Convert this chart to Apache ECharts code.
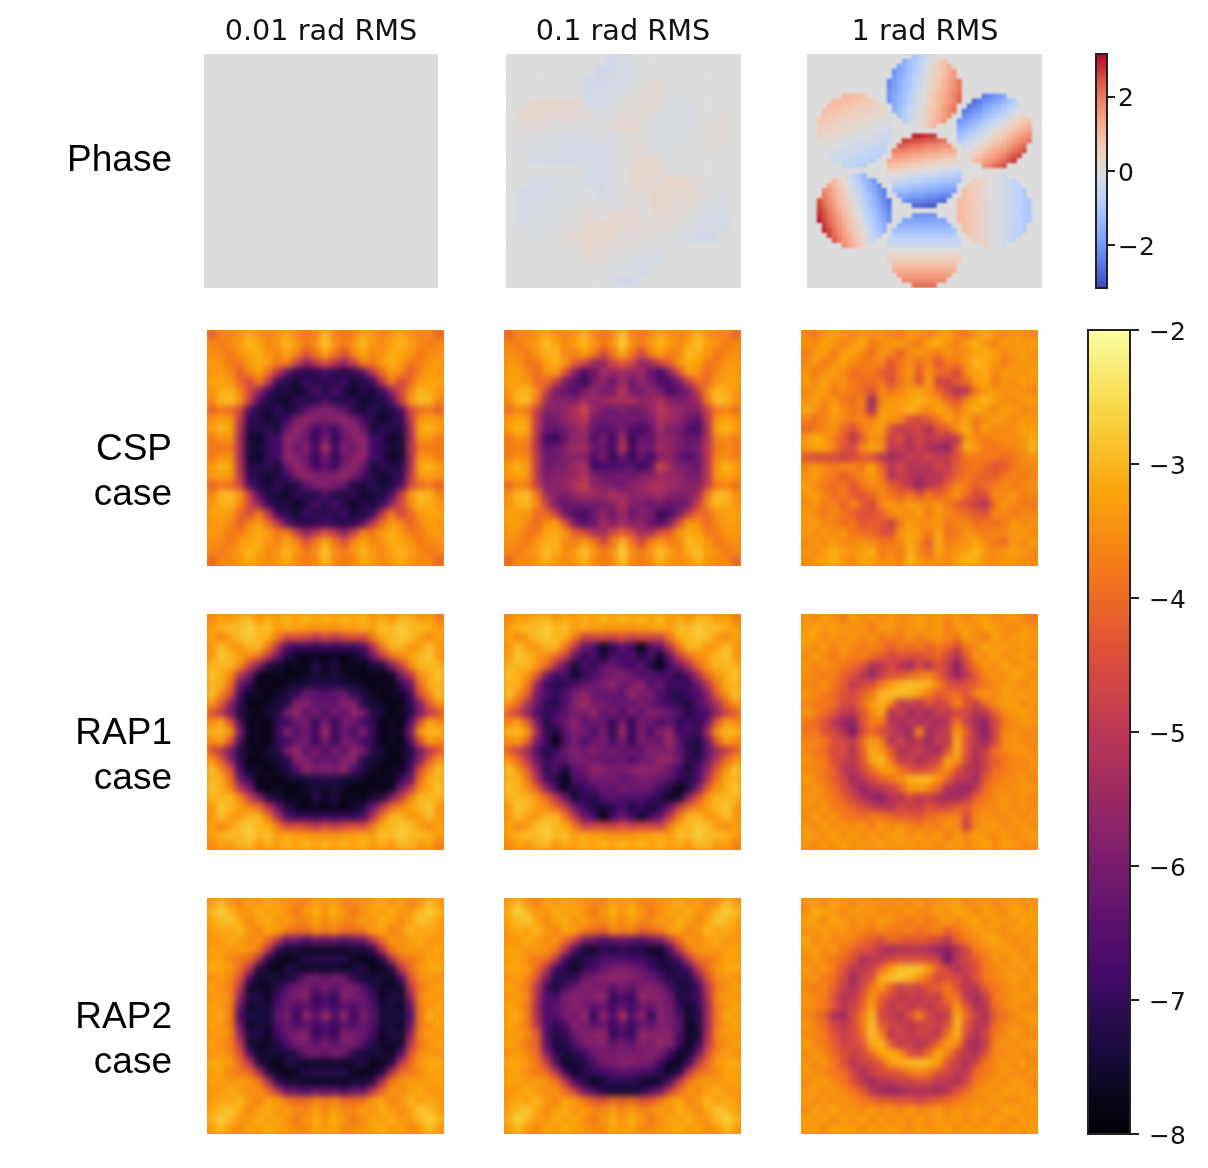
<!DOCTYPE html>
<html>
<head>
<meta charset="utf-8">
<title>Phase and contrast maps</title>
<script src="https://cdn.jsdelivr.net/npm/echarts@6/dist/echarts.min.js"></script>
<style>
body { margin: 0; background: #fff; }
#page { position: relative; width: 1208px; height: 1168px; overflow: hidden; }
#main { position: absolute; left: 0; top: 0; width: 1208px; height: 1168px; z-index: 2; }
.panel { position: absolute; overflow: hidden; }
.panel div.map { position: absolute; left: 0; top: 0; }
</style>
</head>
<body>
<div id="page"><div id="main"></div></div>
<script>
var columnTitles = ['0.01 rad RMS', '0.1 rad RMS', '1 rad RMS'];
var rowLabels = [['Phase'], ['CSP', 'case'], ['RAP1', 'case'], ['RAP2', 'case']];
var phaseTicks = [-2, 0, 2];

// phase maps, in tenths of a radian
var phaseLow = [
[0,0,0,0,0,0,0],
[0,0,0,0,0,0,0],
[0,0,0,0,0,0,0],
[0,0,0,0,0,0,0],
[0,0,0,0,0,0,0],
[0,0,0,0,0,0,0],
[0,0,0,0,0,0,0]
];
var phaseMid = [
[0,0,0,0,0,0,0,0,0,-3,-2,-1,0,0,0,0,0,0,0,0,0],
[0,0,0,0,0,0,0,0,-3,-3,-2,-1,0,0,0,0,0,0,0,0,0],
[0,0,0,0,0,0,0,-3,-3,-2,-2,-1,0,1,0,0,0,0,0,0,0],
[0,0,0,0,0,0,0,-3,-2,-2,-1,0,1,1,0,0,0,0,0,0,0],
[0,0,3,3,3,3,2,-2,-2,-1,0,1,1,2,-1,-1,-1,0,0,0,0],
[0,2,2,2,2,2,1,1,-1,0,1,1,2,-1,-1,-1,-1,0,0,1,0],
[0,1,1,1,0,0,0,0,0,1,2,2,0,-1,-1,-1,-1,0,1,1,0],
[0,0,0,-1,-1,-1,-1,-1,0,-1,0,1,0,-1,-1,-1,0,0,1,1,0],
[0,-1,-1,-1,-1,-2,-2,-2,-2,-1,0,1,1,-1,-1,0,0,0,1,0,0],
[0,0,-2,-2,-2,-2,-2,-2,-2,-1,0,1,2,2,-1,0,0,0,0,0,0],
[0,0,0,0,0,0,0,-2,-2,-1,0,2,2,2,0,0,0,0,0,0,0],
[0,0,-2,-2,-1,-1,-1,-2,-2,-1,0,2,2,1,3,3,2,1,0,0,0],
[0,-2,-2,-2,-1,-1,-1,0,-2,-1,0,1,1,3,3,2,2,1,0,-1,0],
[0,-2,-2,-1,-1,-1,0,0,0,-1,0,1,0,3,2,1,1,0,-1,-1,0],
[0,-2,-1,-1,-1,0,0,1,0,3,2,2,0,2,2,1,0,-1,-2,-2,0],
[0,-1,-1,-1,0,0,1,2,3,3,2,2,1,1,1,0,-1,-2,-2,-3,0],
[0,0,-1,0,0,1,2,3,3,2,1,1,1,0,0,-1,-2,-3,-3,0,0],
[0,0,0,0,0,0,0,3,2,1,1,0,0,-1,0,0,0,0,0,0,0],
[0,0,0,0,0,0,0,1,1,0,0,-1,-1,-2,0,0,0,0,0,0,0],
[0,0,0,0,0,0,0,0,0,-1,-1,-2,-2,0,0,0,0,0,0,0,0],
[0,0,0,0,0,0,0,0,0,-2,-3,-3,0,0,0,0,0,0,0,0,0]
];
var phaseHigh = [
[0,0,0,0,0,0,0,0,0,0,0,0,0,0,0,0,0,0,0,0,0,-11,-8,-5,-2,1,0,0,0,0,0,0,0,0,0,0,0,0,0,0,0,0,0,0,0,0,0],
[0,0,0,0,0,0,0,0,0,0,0,0,0,0,0,0,0,0,0,-16,-13,-10,-7,-4,-1,2,5,8,0,0,0,0,0,0,0,0,0,0,0,0,0,0,0,0,0,0,0],
[0,0,0,0,0,0,0,0,0,0,0,0,0,0,0,0,0,0,-18,-15,-12,-9,-6,-3,0,3,6,8,12,0,0,0,0,0,0,0,0,0,0,0,0,0,0,0,0,0,0],
[0,0,0,0,0,0,0,0,0,0,0,0,0,0,0,0,0,-21,-18,-15,-12,-9,-6,-3,0,3,6,9,12,15,0,0,0,0,0,0,0,0,0,0,0,0,0,0,0,0,0],
[0,0,0,0,0,0,0,0,0,0,0,0,0,0,0,0,0,-20,-17,-14,-11,-8,-5,-2,1,4,7,10,13,16,0,0,0,0,0,0,0,0,0,0,0,0,0,0,0,0,0],
[0,0,0,0,0,0,0,0,0,0,0,0,0,0,0,0,-22,-19,-16,-13,-10,-7,-4,-1,2,5,8,11,14,17,20,0,0,0,0,0,0,0,0,0,0,0,0,0,0,0,0],
[0,0,0,0,0,0,0,0,0,0,0,0,0,0,0,0,-22,-19,-16,-13,-10,-7,-4,-1,2,5,8,11,14,17,20,0,0,0,0,0,0,0,0,0,0,0,0,0,0,0,0],
[0,0,0,0,0,0,0,0,0,0,0,0,0,0,0,0,-21,-18,-15,-12,-9,-6,-3,0,3,6,9,12,15,18,21,0,0,0,0,0,0,0,0,0,0,0,0,0,0,0,0],
[0,0,0,0,0,0,0,10,10,9,9,8,0,0,0,0,-20,-17,-14,-11,-8,-5,-2,1,4,7,10,13,16,19,22,0,0,0,0,-25,-23,-21,-19,-17,0,0,0,0,0,0,0],
[0,0,0,0,0,10,10,9,9,8,8,7,7,6,0,0,-20,-17,-14,-11,-8,-5,-2,1,4,7,10,13,16,19,22,0,0,-27,-25,-22,-20,-18,-16,-14,-11,-9,0,0,0,0,0],
[0,0,0,0,10,9,9,8,8,7,6,6,5,5,4,0,0,-16,-13,-10,-7,-4,-1,2,5,8,11,14,17,20,0,0,-26,-24,-22,-19,-17,-15,-13,-11,-8,-6,-4,0,0,0,0],
[0,0,0,9,8,8,7,7,6,6,5,5,4,4,3,3,0,-15,-12,-9,-6,-3,0,3,6,9,12,15,18,21,0,-25,-23,-21,-19,-16,-14,-12,-10,-8,-5,-3,-1,1,0,0,0],
[0,0,0,8,7,7,6,6,5,5,4,4,3,3,2,1,0,0,-12,-9,-6,-3,0,3,6,9,12,15,18,0,0,-22,-20,-18,-16,-13,-11,-9,-7,-5,-2,0,2,4,0,0,0],
[0,0,7,7,6,6,5,4,4,3,3,2,2,1,1,0,0,0,0,-8,-5,-2,1,4,7,10,13,16,0,0,-21,-19,-17,-15,-13,-10,-8,-6,-4,-2,1,3,5,7,9,0,0],
[0,0,6,5,5,4,4,3,3,2,2,1,1,0,0,-1,-2,0,0,0,0,-1,2,5,8,11,0,0,0,0,-18,-16,-14,-12,-10,-7,-5,-3,-1,1,4,6,8,10,12,0,0],
[0,0,5,4,4,3,3,2,2,1,0,0,-1,-1,-2,-2,-3,0,0,0,0,0,0,0,0,0,0,0,0,0,-15,-13,-11,-9,-7,-4,-2,0,2,4,7,9,11,13,15,0,0],
[0,0,4,3,2,2,1,1,0,0,-1,-1,-2,-2,-3,-3,-4,0,0,0,0,29,29,28,27,27,0,0,0,0,-12,-10,-8,-6,-4,-1,1,3,5,7,10,12,14,16,18,0,0],
[0,0,2,2,1,1,0,0,-1,-1,-2,-2,-3,-3,-4,-5,-5,0,0,27,26,25,25,24,23,23,22,21,0,0,-9,-7,-5,-3,-1,2,4,6,8,10,13,15,17,19,21,0,0],
[0,0,0,1,0,0,-1,-2,-2,-3,-3,-4,-4,-5,-5,-6,0,0,23,23,22,21,21,20,19,19,18,17,17,0,0,-4,-2,0,2,4,7,9,11,13,16,18,20,22,0,0,0],
[0,0,0,-1,-1,-2,-2,-3,-3,-4,-4,-5,-5,-6,-6,-7,0,20,19,19,18,17,17,16,15,15,14,13,13,12,0,-1,1,3,5,8,10,12,14,16,19,21,23,25,0,0,0],
[0,0,0,0,-2,-3,-3,-4,-4,-5,-6,-6,-7,-7,-8,0,0,16,15,15,14,13,13,12,11,11,10,9,9,8,0,0,4,6,8,11,13,15,17,19,22,24,26,0,0,0,0],
[0,0,0,0,0,-4,-4,-5,-6,-6,-7,-7,-8,-8,0,0,13,12,12,11,10,9,9,8,7,7,6,5,5,4,3,0,0,9,11,14,16,18,20,22,25,27,0,0,0,0,0],
[0,0,0,0,0,0,0,-6,-6,-7,-8,-8,0,0,0,0,9,8,8,7,6,5,5,4,3,3,2,1,1,0,-1,0,0,0,0,17,19,21,23,25,0,0,0,0,0,0,0],
[0,0,0,0,0,0,0,0,0,0,0,0,0,0,0,0,5,4,3,3,2,1,1,0,-1,-1,-2,-3,-3,-4,-5,0,0,0,0,0,0,0,0,0,0,0,0,0,0,0,0],
[0,0,0,0,0,0,0,1,-3,-6,-10,-14,0,0,0,0,1,0,-1,-1,-2,-3,-3,-4,-5,-5,-6,-7,-7,-8,-9,0,0,0,0,3,1,0,-1,-3,0,0,0,0,0,0,0],
[0,0,0,0,0,9,6,2,-2,-5,-9,-12,-16,-20,0,0,-3,-4,-4,-5,-6,-7,-7,-8,-9,-9,-10,-11,-11,-12,-13,0,0,6,4,3,1,0,-1,-3,-4,-6,0,0,0,0,0],
[0,0,0,0,14,10,7,3,0,-4,-8,-11,-15,-18,-22,0,0,-8,-9,-9,-10,-11,-11,-12,-13,-13,-14,-15,-15,-16,0,0,7,6,4,3,1,0,-1,-3,-4,-6,-7,0,0,0,0],
[0,0,0,19,16,12,8,5,1,-3,-6,-10,-14,-17,-21,-24,0,-12,-13,-13,-14,-15,-15,-16,-17,-17,-18,-19,-19,-20,0,9,7,6,4,3,1,0,-1,-3,-4,-6,-7,-9,0,0,0],
[0,0,0,20,17,13,9,6,2,-2,-5,-9,-12,-16,-20,-23,0,0,-17,-17,-18,-19,-19,-20,-21,-21,-22,-23,-23,0,0,9,7,6,4,3,1,0,-1,-3,-4,-6,-7,-9,0,0,0],
[0,0,25,21,18,14,10,7,3,0,-4,-8,-11,-15,-18,-22,-26,0,0,-21,-22,-23,-23,-24,-25,-25,-26,-27,0,0,10,9,7,6,4,3,1,0,-1,-3,-4,-6,-7,-9,-10,0,0],
[0,0,26,22,19,15,11,8,4,1,-3,-6,-10,-14,-17,-21,-24,0,0,0,0,-27,-27,-28,-29,-29,0,0,0,0,10,9,7,6,4,3,1,0,-1,-3,-4,-6,-7,-9,-10,0,0],
[0,0,27,24,20,16,13,9,6,2,-2,-5,-9,-12,-16,-20,-23,0,0,0,0,0,0,0,0,0,0,0,0,0,10,9,7,6,4,3,1,0,-1,-3,-4,-6,-7,-9,-10,0,0],
[0,0,28,25,21,18,14,10,7,3,0,-4,-8,-11,-15,-18,-22,0,0,0,0,-21,-21,-21,-21,-21,0,0,0,0,10,9,7,6,4,3,1,0,-1,-3,-4,-6,-7,-9,-10,0,0],
[0,0,30,26,22,19,15,11,8,4,1,-3,-7,-10,-14,-17,-21,0,0,-18,-18,-18,-18,-18,-18,-18,-18,-18,0,0,10,9,7,6,4,3,1,0,-1,-3,-4,-6,-7,-9,-10,0,0],
[0,0,0,27,23,20,16,13,9,6,2,-2,-5,-9,-12,-16,0,0,-15,-15,-15,-15,-15,-15,-15,-15,-15,-15,-15,0,0,9,7,6,4,3,1,0,-1,-3,-4,-6,-7,-9,0,0,0],
[0,0,0,28,25,21,17,14,10,7,3,0,-4,-8,-11,-15,0,-12,-12,-12,-12,-12,-12,-12,-12,-12,-12,-12,-12,-12,0,9,7,6,4,3,1,0,-1,-3,-4,-6,-7,-9,0,0,0],
[0,0,0,0,26,22,19,15,12,8,4,1,-3,-6,-10,0,0,-9,-9,-9,-9,-9,-9,-9,-9,-9,-9,-9,-9,-9,0,0,7,6,4,3,1,0,-1,-3,-4,-6,-7,0,0,0,0],
[0,0,0,0,0,24,20,16,13,9,6,2,-2,-5,0,0,-6,-6,-6,-6,-6,-6,-6,-6,-6,-6,-6,-6,-6,-6,-6,0,0,6,4,3,1,0,-1,-3,-4,-6,0,0,0,0,0],
[0,0,0,0,0,0,0,18,14,10,7,3,0,0,0,0,-3,-3,-3,-3,-3,-3,-3,-3,-3,-3,-3,-3,-3,-3,-3,0,0,0,0,3,1,0,-1,-3,0,0,0,0,0,0,0],
[0,0,0,0,0,0,0,0,0,0,0,0,0,0,0,0,0,0,0,0,0,0,0,0,0,0,0,0,0,0,0,0,0,0,0,0,0,0,0,0,0,0,0,0,0,0,0],
[0,0,0,0,0,0,0,0,0,0,0,0,0,0,0,0,3,3,3,3,3,3,3,3,3,3,3,3,3,3,3,0,0,0,0,0,0,0,0,0,0,0,0,0,0,0,0],
[0,0,0,0,0,0,0,0,0,0,0,0,0,0,0,0,6,6,6,6,6,6,6,6,6,6,6,6,6,6,6,0,0,0,0,0,0,0,0,0,0,0,0,0,0,0,0],
[0,0,0,0,0,0,0,0,0,0,0,0,0,0,0,0,0,9,9,9,9,9,9,9,9,9,9,9,9,9,0,0,0,0,0,0,0,0,0,0,0,0,0,0,0,0,0],
[0,0,0,0,0,0,0,0,0,0,0,0,0,0,0,0,0,12,12,12,12,12,12,12,12,12,12,12,12,12,0,0,0,0,0,0,0,0,0,0,0,0,0,0,0,0,0],
[0,0,0,0,0,0,0,0,0,0,0,0,0,0,0,0,0,0,15,15,15,15,15,15,15,15,15,15,15,0,0,0,0,0,0,0,0,0,0,0,0,0,0,0,0,0,0],
[0,0,0,0,0,0,0,0,0,0,0,0,0,0,0,0,0,0,0,18,18,18,18,18,18,18,18,18,0,0,0,0,0,0,0,0,0,0,0,0,0,0,0,0,0,0,0],
[0,0,0,0,0,0,0,0,0,0,0,0,0,0,0,0,0,0,0,0,0,21,21,21,21,21,0,0,0,0,0,0,0,0,0,0,0,0,0,0,0,0,0,0,0,0,0]
];

// contrast maps, in tenths of a decade below 1 (38 means -3.8)
var cspLow = [
[42,36,36,34,31,34,36,34,31,36,38,36,29,36,38,36,31,34,36,34,31,34,36,36,42],
[36,38,36,33,30,32,36,34,30,34,38,35,28,35,38,34,30,34,36,32,30,33,36,38,36],
[35,36,38,34,32,31,35,36,32,36,44,38,32,38,44,36,32,36,35,31,32,34,38,36,35],
[33,34,38,38,33,31,33,38,37,48,56,50,44,50,56,48,37,38,33,31,33,38,38,34,33],
[34,33,36,42,36,33,40,50,64,70,72,70,68,70,72,70,64,50,40,33,36,42,36,33,34],
[32,32,34,40,46,38,50,68,72,74,68,72,70,72,68,74,72,68,50,38,46,40,34,32,32],
[34,31,30,36,46,56,68,74,72,76,72,66,72,66,72,76,72,74,68,56,46,36,30,31,34],
[36,30,29,34,48,66,72,74,76,70,72,72,66,72,72,70,76,74,72,66,48,34,29,30,36],
[42,38,40,46,66,72,74,70,74,72,64,60,58,60,64,72,74,70,74,72,66,46,40,38,42],
[34,33,34,50,70,72,76,72,68,60,56,58,60,58,56,60,68,72,76,72,70,50,34,33,34],
[33,30,32,52,72,72,70,74,62,56,60,68,64,68,60,56,62,74,70,72,72,52,32,30,33],
[38,35,34,54,74,76,70,68,56,58,62,70,60,70,62,58,56,68,70,76,74,54,34,35,38],
[38,38,38,52,74,74,70,68,56,62,58,68,52,68,58,62,56,68,70,74,74,52,38,38,38],
[38,35,34,54,74,76,70,68,56,58,62,70,60,70,62,58,56,68,70,76,74,54,34,35,38],
[33,30,32,52,72,72,70,74,62,56,60,68,64,68,60,56,62,74,70,72,72,52,32,30,33],
[34,33,34,50,70,72,76,72,68,60,56,58,60,58,56,60,68,72,76,72,70,50,34,33,34],
[42,38,40,46,66,72,74,70,74,72,64,60,58,60,64,72,74,70,74,72,66,46,40,38,42],
[36,30,29,34,48,66,72,74,76,70,72,72,66,72,72,70,76,74,72,66,48,34,29,30,36],
[34,31,30,36,46,56,68,74,72,76,72,66,72,66,72,76,72,74,68,56,46,36,30,31,34],
[32,32,34,40,46,38,50,68,72,74,68,72,70,72,68,74,72,68,50,38,46,40,34,32,32],
[34,33,36,42,36,33,40,50,64,70,72,70,68,70,72,70,64,50,40,33,36,42,36,33,34],
[33,34,38,38,33,31,33,38,37,48,56,50,44,50,56,48,37,38,33,31,33,38,38,34,33],
[35,36,38,34,32,31,35,36,32,36,44,38,31,38,44,36,32,36,35,31,32,34,38,36,35],
[36,38,36,33,30,32,36,34,30,34,38,35,28,35,38,34,30,34,36,32,30,33,36,38,36],
[42,36,36,34,31,34,36,34,31,36,38,36,29,36,38,36,31,34,36,34,31,34,36,36,42]
];
var cspMid = [
[42,36,36,34,31,34,36,34,30,36,38,36,28,36,38,36,31,34,36,34,30,34,36,36,42],
[36,38,35,33,29,32,36,33,30,34,38,35,27,35,38,34,30,33,36,32,29,33,35,38,36],
[35,36,38,34,31,30,36,37,33,37,46,38,31,38,46,37,33,37,36,30,31,34,38,36,35],
[34,34,38,38,32,31,34,42,46,54,56,46,42,46,56,54,46,42,34,31,32,38,38,34,34],
[33,33,36,40,35,33,44,58,66,62,54,56,54,56,54,62,68,58,44,33,35,40,36,33,33],
[32,33,34,40,40,48,60,64,70,60,56,62,54,62,56,60,66,66,60,48,40,40,34,33,32],
[34,31,30,36,48,60,62,66,60,56,60,60,50,60,60,56,60,68,64,60,48,36,30,31,34],
[35,30,29,38,54,58,58,58,54,56,56,52,54,52,56,56,52,58,60,58,54,38,29,30,35],
[40,36,38,48,58,58,56,52,46,56,60,62,58,62,60,56,50,54,56,58,58,48,38,36,40],
[34,32,34,50,62,60,56,54,50,60,62,60,62,60,62,60,52,54,56,62,64,50,34,32,34],
[33,30,32,50,62,64,60,56,54,62,66,64,60,66,68,62,54,60,60,66,68,52,32,30,33],
[38,35,36,52,68,70,62,56,56,66,60,68,54,70,62,64,56,56,60,64,62,52,36,35,38],
[38,36,38,52,64,62,58,54,54,62,62,68,50,68,60,62,54,56,60,62,60,50,38,36,38],
[38,35,36,50,62,62,58,58,58,66,60,70,62,70,62,68,58,56,62,66,62,50,36,35,38],
[33,30,34,50,62,60,60,54,52,68,68,66,66,64,70,64,46,54,60,60,62,50,34,30,33],
[34,32,34,50,60,58,56,56,52,58,62,62,60,62,58,58,54,56,56,60,60,50,34,32,34],
[40,36,38,48,58,58,56,52,48,56,58,60,62,58,56,52,52,54,56,58,58,48,38,36,40],
[35,30,29,38,54,58,60,56,54,54,56,52,54,58,56,56,54,58,60,58,54,38,29,30,35],
[34,31,30,36,48,60,62,62,60,62,60,58,52,58,60,62,60,64,62,60,48,36,30,31,34],
[32,33,34,40,40,48,62,66,68,62,56,62,54,62,58,60,70,66,60,48,40,40,34,33,32],
[33,33,36,40,35,33,44,60,66,62,54,58,54,58,56,62,66,58,44,33,35,40,36,33,33],
[34,34,38,38,32,31,34,42,44,52,54,46,42,46,54,52,44,42,34,31,32,38,38,34,34],
[35,36,38,34,31,30,36,37,33,37,46,38,30,38,46,37,33,37,36,30,31,34,38,36,35],
[36,38,35,33,29,31,36,33,29,34,38,35,27,35,38,34,29,33,36,31,29,33,35,38,36],
[42,36,36,34,30,34,36,34,30,36,38,36,28,36,38,36,30,34,36,34,30,34,36,36,42]
];
var cspHigh = [
[36,38,34,32,34,36,33,35,34,36,38,33,35,37,33,32,36,38,34,31,34,36,33,35,36],
[34,36,32,34,37,34,32,38,36,34,33,36,38,32,31,35,37,33,31,34,37,33,34,34,33],
[38,34,33,38,33,32,36,40,34,36,42,35,34,36,38,34,36,35,32,31,33,36,34,33,35],
[36,33,38,35,32,36,38,37,36,44,38,36,40,36,44,38,38,34,30,32,34,38,35,34,34],
[34,38,35,33,36,40,38,38,42,44,38,34,42,34,40,40,46,36,32,31,36,34,33,35,33],
[33,36,32,36,34,38,40,40,38,46,38,35,44,33,46,48,42,40,33,32,38,34,36,33,34],
[36,34,33,38,36,38,40,44,36,38,36,33,32,35,40,46,52,50,38,34,33,36,34,35,36],
[35,33,36,34,38,40,36,56,36,34,33,32,30,33,34,40,44,36,32,30,33,35,36,34,33],
[31,34,38,32,36,38,38,54,34,33,34,30,33,36,32,34,38,33,31,34,36,33,34,36,35],
[36,40,36,34,36,38,36,38,33,34,36,44,46,42,38,33,36,33,38,35,33,34,36,34,34],
[42,38,36,34,40,46,38,34,33,44,50,48,46,52,44,42,34,31,38,33,36,36,35,33,33],
[33,31,33,38,42,50,42,35,36,48,44,52,46,50,48,50,50,33,36,38,36,35,36,34,31],
[34,32,32,36,44,46,36,32,34,50,48,52,48,52,54,56,44,31,33,38,38,37,36,35,30],
[44,46,46,46,48,46,42,44,50,54,52,48,50,46,50,48,44,38,38,38,38,40,38,36,34],
[36,34,36,38,36,36,38,32,40,50,46,52,50,52,46,50,42,40,38,40,44,42,38,36,36],
[35,33,36,38,42,40,36,33,38,52,48,50,54,50,52,46,42,38,40,42,42,38,37,38,36],
[32,36,38,40,38,44,38,36,36,42,46,50,56,50,48,42,36,38,42,40,38,36,38,36,35],
[34,33,36,40,38,42,44,40,36,38,42,38,44,38,42,38,34,40,46,44,36,36,34,38,36],
[36,34,38,36,42,36,42,46,36,34,36,33,34,36,34,38,42,44,48,52,38,34,36,38,38],
[33,36,38,36,38,42,44,44,42,36,34,36,33,38,33,36,38,40,42,44,36,36,38,36,36],
[34,33,36,36,40,38,44,42,42,48,38,33,36,35,34,38,36,36,40,38,40,38,34,36,34],
[33,36,34,36,34,38,40,40,44,46,34,32,34,38,32,40,38,34,36,38,36,36,34,33,36],
[36,34,36,33,36,36,34,36,38,38,36,31,36,42,31,38,36,34,32,36,38,40,34,36,33],
[34,36,33,31,33,35,33,31,38,36,38,31,36,40,32,36,34,32,30,34,36,34,33,34,36],
[36,34,33,30,34,36,32,33,36,34,38,30,34,36,34,36,33,30,31,35,36,34,34,36,36]
];
var rap1Low = [
[36,32,34,30,30,34,31,33,30,32,30,32,30,32,30,32,30,33,31,34,30,30,34,32,38],
[33,31,29,30,27,30,29,33,31,33,33,34,34,34,33,33,31,33,29,30,27,30,29,31,33],
[32,36,33,29,28,30,31,38,46,44,46,50,46,50,46,44,46,38,31,30,28,29,33,36,32],
[34,29,33,34,30,30,38,52,66,70,68,70,68,70,68,70,66,52,38,30,30,34,33,29,34],
[34,28,30,33,36,40,50,62,72,76,78,76,78,76,78,76,72,62,50,40,36,33,30,28,34],
[30,30,30,36,48,58,72,74,78,76,78,72,76,72,78,76,78,74,72,58,48,36,30,30,30],
[28,31,36,50,60,76,78,76,78,78,76,74,76,74,76,78,78,76,78,76,60,50,36,31,28],
[30,31,40,62,70,78,76,78,76,74,74,72,72,72,74,74,76,78,76,78,70,62,40,31,30],
[28,36,44,68,76,76,78,76,72,70,62,64,66,64,62,70,72,76,78,76,76,68,44,36,28],
[34,42,58,70,78,78,76,74,72,58,58,64,62,64,58,58,72,74,76,78,78,70,58,42,34],
[44,50,60,72,76,78,74,72,60,56,64,60,66,60,64,56,60,72,74,78,76,72,60,50,44],
[36,32,44,66,78,76,78,70,68,62,60,70,60,70,60,62,68,70,78,76,78,66,44,32,36],
[30,30,34,60,76,76,78,70,58,66,62,68,54,68,62,66,58,70,78,76,76,60,34,30,30],
[36,33,44,66,78,76,78,70,68,62,60,70,60,70,60,62,68,70,78,76,78,66,44,33,36],
[44,50,60,72,76,78,74,72,60,56,64,60,66,60,64,56,60,72,74,78,76,72,60,50,44],
[34,42,58,70,78,78,76,74,72,58,58,64,62,64,58,58,72,74,76,78,78,70,58,42,34],
[28,36,44,68,76,76,78,76,72,66,56,60,58,60,56,66,72,76,78,76,76,68,44,36,28],
[30,31,40,62,70,78,76,78,76,74,74,72,72,72,74,74,76,78,76,78,70,62,40,31,30],
[28,31,36,50,60,76,78,76,78,78,76,74,76,74,76,78,78,76,78,76,60,50,36,31,28],
[30,30,30,36,48,58,72,74,78,76,78,72,76,72,78,76,78,74,72,58,48,36,30,30,30],
[34,28,30,33,36,40,50,62,72,76,78,76,78,76,78,76,72,62,50,40,36,33,30,28,34],
[34,29,33,34,30,30,38,52,66,70,68,70,68,70,68,70,66,52,38,30,30,34,33,29,34],
[32,36,33,29,28,30,31,38,46,44,46,50,46,50,46,44,46,38,31,30,28,29,33,36,32],
[33,31,29,30,27,30,29,33,31,33,33,34,34,34,33,33,31,33,29,30,27,30,29,31,33],
[36,32,34,30,30,34,31,33,30,32,30,32,30,32,30,32,30,33,31,34,30,30,34,32,38]
];
var rap1Mid = [
[36,32,34,30,30,34,31,33,30,32,30,32,30,32,30,32,30,33,31,34,30,30,34,32,38],
[33,31,29,30,27,30,29,33,31,33,33,34,34,34,33,33,31,33,29,30,27,30,29,31,33],
[32,36,33,29,28,30,31,38,48,46,46,48,44,48,46,46,48,38,31,30,28,29,33,36,32],
[34,29,33,34,30,30,38,50,62,66,76,70,64,68,78,66,62,50,38,30,30,34,33,29,34],
[34,28,30,33,36,40,48,62,70,66,74,66,68,66,72,66,76,62,48,40,36,33,30,28,34],
[30,30,30,34,40,52,64,74,66,70,64,62,66,68,64,72,78,68,60,52,40,34,30,30,30],
[28,31,34,42,60,68,66,76,70,66,62,60,58,62,66,64,68,66,72,64,52,40,34,31,28],
[30,31,38,56,68,72,70,66,64,62,60,56,62,60,56,66,62,70,68,70,62,50,38,31,30],
[28,34,42,60,66,70,66,60,56,62,64,62,64,56,60,60,66,70,72,68,66,58,42,34,28],
[34,40,52,62,70,72,66,58,54,60,60,64,62,62,60,62,66,68,70,74,66,60,52,40,34],
[42,48,56,66,70,68,64,60,60,56,64,60,66,60,64,58,60,62,66,72,68,66,56,48,42],
[36,33,42,60,72,66,62,56,64,62,62,70,60,70,60,62,66,64,70,68,70,62,42,33,36],
[30,30,34,54,70,74,64,58,60,66,60,70,54,70,60,66,58,56,68,66,70,54,34,30,30],
[36,33,42,60,68,78,66,60,66,62,60,68,60,70,60,62,62,54,64,72,72,62,42,33,36],
[42,48,54,66,72,70,62,58,62,58,62,60,64,62,64,58,60,58,64,70,74,64,54,48,42],
[34,40,50,62,70,66,64,60,60,62,62,64,62,66,62,60,56,56,62,72,70,62,50,40,34],
[28,34,42,56,70,66,74,64,62,56,58,60,60,58,56,58,58,62,68,74,66,56,42,34,28],
[30,31,38,52,66,72,78,66,66,60,62,60,64,62,60,60,62,64,70,72,66,52,38,31,30],
[28,31,34,42,56,68,76,72,68,66,62,64,60,62,62,62,68,72,78,72,60,42,34,31,28],
[30,30,30,34,40,50,62,74,70,72,66,64,66,66,66,68,72,76,74,56,44,34,30,30,30],
[34,28,30,33,36,40,48,60,68,72,74,70,66,72,68,74,70,62,48,40,36,33,30,28,34],
[34,29,33,34,30,30,38,50,62,68,78,68,62,68,76,68,62,50,38,30,30,34,33,29,34],
[32,36,33,29,28,30,31,38,48,46,46,48,44,48,46,46,48,38,31,30,28,29,33,36,32],
[33,31,29,30,27,30,29,33,31,33,33,34,34,34,33,33,31,33,29,30,27,30,29,31,33],
[36,32,34,30,30,34,31,33,30,32,30,32,30,32,30,32,30,33,31,34,30,30,34,32,38]
];
var rap1High = [
[34,36,33,35,38,32,36,34,36,33,36,35,33,35,33,36,33,36,34,32,36,34,33,36,38],
[34,32,35,33,34,36,34,38,33,34,36,35,33,35,33,38,34,33,36,32,33,35,36,34,35],
[32,33,36,34,36,33,36,34,38,36,38,34,38,35,34,36,38,33,35,38,33,36,34,33,34],
[33,36,33,37,34,36,38,36,38,42,38,40,37,42,38,40,46,38,36,32,34,33,35,34,34],
[36,33,36,38,35,38,37,40,42,46,44,44,46,42,40,46,52,42,34,36,32,36,34,33,36],
[34,37,34,36,38,40,44,52,50,46,50,56,46,52,44,48,58,46,38,34,36,32,35,34,33],
[35,36,38,37,42,44,50,56,48,44,44,40,38,36,42,48,56,50,42,36,34,36,32,33,36],
[36,37,34,38,42,50,46,44,38,33,30,29,29,31,36,44,46,44,42,38,36,33,34,36,33],
[34,36,38,40,44,46,42,38,30,29,29,30,33,38,42,40,40,44,36,34,36,33,34,33,35],
[36,38,38,40,46,46,40,34,30,36,50,48,50,44,48,44,36,44,48,40,35,33,33,36,34],
[34,36,40,44,50,50,44,36,32,52,48,54,50,54,48,50,46,46,52,50,42,36,34,33,35],
[38,40,44,50,56,58,44,38,38,50,54,50,52,50,54,50,38,48,54,56,46,38,36,34,34],
[40,38,44,46,52,60,46,40,46,48,52,56,36,54,50,48,33,42,52,58,46,36,35,36,36],
[36,36,38,44,46,50,40,33,36,52,46,52,50,54,48,50,31,44,50,56,46,36,34,36,36],
[36,38,40,46,44,52,42,31,34,42,52,50,48,52,54,44,31,44,52,48,40,36,35,34,36],
[34,36,38,44,48,50,44,32,30,38,50,48,52,50,46,33,34,46,54,46,42,38,36,36,34],
[36,36,38,42,50,52,46,40,33,33,38,44,46,44,40,34,44,50,52,48,40,38,36,36,35],
[33,36,38,42,46,54,50,46,42,38,36,31,30,30,34,42,50,50,54,42,38,36,36,34,36],
[36,34,36,40,44,50,56,52,50,48,42,34,33,36,42,52,54,56,50,40,36,36,35,34,34],
[34,35,36,38,42,46,52,56,58,50,52,46,50,48,52,54,54,50,42,38,36,34,36,34,36],
[35,36,34,38,38,42,44,48,50,52,46,48,48,44,46,46,42,42,38,36,36,34,36,35,36],
[36,33,36,34,38,38,40,38,38,40,42,42,44,40,38,36,36,46,36,34,36,36,34,36,34],
[34,36,33,36,34,36,34,38,33,36,34,36,38,36,38,34,36,48,36,34,33,36,35,34,36],
[33,34,36,32,36,33,36,33,36,34,33,36,33,36,33,38,34,36,33,35,36,33,36,34,33],
[34,36,33,36,32,35,33,35,33,35,34,33,35,34,36,34,33,36,34,32,36,33,34,36,35]
];
var rap2Low = [
[33,29,34,36,32,34,31,33,34,36,36,32,34,32,36,36,34,33,31,34,32,36,34,29,33],
[30,27,30,34,34,31,33,32,35,38,34,31,34,31,34,38,35,32,33,31,34,34,30,27,30],
[32,30,28,32,36,33,31,35,33,36,36,33,36,33,36,36,33,35,31,33,36,32,28,30,32],
[33,31,33,30,34,37,32,33,38,40,40,36,38,36,40,40,38,33,32,37,34,30,33,31,33],
[34,34,31,33,36,34,40,50,62,62,66,62,64,62,66,62,62,50,40,34,36,33,31,34,34],
[32,33,34,33,34,38,52,70,74,74,76,76,76,76,76,74,74,70,52,38,34,33,34,33,32],
[33,32,36,38,40,52,72,76,78,76,72,72,72,72,72,76,78,76,72,52,40,38,36,32,33],
[31,32,34,40,50,72,76,78,72,74,76,74,76,74,76,74,72,78,76,72,50,40,34,32,31],
[35,33,36,44,66,76,74,74,74,70,62,60,64,60,62,70,74,74,74,76,66,44,36,33,35],
[32,35,38,50,74,76,76,72,66,60,60,64,60,64,60,60,66,72,76,76,74,50,38,35,32],
[34,33,36,56,74,72,76,68,62,60,58,70,66,70,58,60,62,68,76,72,74,56,36,33,34],
[32,34,38,62,76,74,74,66,62,66,64,68,66,68,64,66,62,66,74,74,76,62,38,34,32],
[33,31,38,66,74,74,74,64,60,70,56,66,54,66,56,70,60,64,74,74,74,66,38,31,33],
[32,34,38,62,76,74,74,66,62,66,64,68,66,68,64,66,62,66,74,74,76,62,38,34,32],
[34,33,36,56,74,72,76,68,62,60,58,70,66,70,58,60,62,68,76,72,74,56,36,33,34],
[32,35,38,50,74,76,76,72,66,60,60,64,60,64,60,60,66,72,76,76,74,50,38,35,32],
[35,33,36,44,66,76,74,74,74,70,62,60,64,60,62,70,74,74,74,76,66,44,36,33,35],
[31,32,34,40,50,72,76,78,72,74,76,74,76,74,76,74,72,78,76,72,50,40,34,32,31],
[33,32,36,38,40,52,72,76,78,76,72,72,72,72,72,76,78,76,72,52,40,38,36,32,33],
[32,33,34,33,34,38,52,70,74,74,76,76,76,76,76,74,74,70,52,38,34,33,34,33,32],
[34,34,31,33,36,34,40,50,62,62,66,62,64,62,66,62,62,50,40,34,36,33,31,34,34],
[33,31,33,30,34,37,32,33,38,40,40,36,38,36,40,40,38,33,32,37,34,30,33,31,33],
[32,30,28,32,36,33,31,35,33,36,36,33,36,33,36,36,33,35,31,33,36,32,28,30,32],
[30,27,30,34,34,31,33,32,35,38,34,31,34,31,34,38,35,32,33,31,34,34,30,27,30],
[33,29,34,36,32,34,31,33,34,36,36,32,34,32,36,36,34,33,31,34,32,36,34,29,33]
];
var rap2Mid = [
[33,29,34,36,32,34,31,33,34,36,36,32,34,32,36,36,34,33,31,34,32,36,34,29,33],
[30,27,30,34,34,31,33,32,35,38,34,31,34,31,34,38,35,32,33,31,34,34,30,27,30],
[32,30,28,32,36,33,31,35,33,36,36,33,36,33,36,36,33,35,31,33,36,32,28,30,32],
[33,31,33,30,34,37,32,33,38,40,42,36,38,36,42,40,38,33,32,37,34,30,33,31,33],
[34,34,31,33,36,34,40,48,60,62,66,64,62,64,66,62,60,50,40,34,36,33,31,34,34],
[32,33,34,33,34,38,50,66,74,76,70,72,70,72,72,76,76,66,50,38,34,33,34,33,32],
[33,32,36,38,40,50,68,74,72,70,66,66,66,68,68,70,74,72,66,50,40,38,36,32,33],
[31,32,34,40,50,68,72,76,70,68,62,60,58,60,62,68,72,74,72,66,50,40,34,32,31],
[35,33,36,44,60,72,72,70,62,60,58,56,58,58,60,62,66,72,72,72,60,44,36,33,35],
[32,35,38,50,68,74,66,62,58,60,60,64,60,64,60,58,60,66,74,74,68,50,38,35,32],
[34,33,36,52,66,68,60,58,60,58,56,70,66,70,56,58,58,62,72,72,68,52,36,33,34],
[32,34,38,54,68,64,60,58,60,64,62,68,64,68,62,62,58,60,70,76,70,54,38,34,32],
[33,31,38,52,66,66,60,60,56,70,56,66,52,66,56,70,58,60,66,74,72,54,38,31,33],
[32,34,38,50,66,70,66,58,60,64,62,68,64,68,62,64,58,60,64,76,72,54,38,34,32],
[34,33,36,42,66,72,70,62,58,58,56,70,66,70,56,58,58,58,66,76,74,52,36,33,34],
[32,35,38,42,64,74,72,66,60,60,58,64,60,64,58,60,56,58,68,76,70,50,38,35,32],
[35,33,36,40,58,70,74,72,68,62,60,60,60,60,60,58,60,68,76,74,62,44,36,33,35],
[31,32,34,38,48,66,76,74,72,66,60,60,58,58,60,60,68,76,76,68,50,40,34,32,31],
[33,32,36,38,40,50,68,76,72,70,68,66,64,66,66,68,72,76,70,50,40,38,36,32,33],
[32,33,34,33,34,38,50,66,72,76,74,70,72,70,74,76,74,66,50,38,34,33,34,33,32],
[34,34,31,33,36,34,40,48,60,66,72,74,74,74,72,66,60,48,40,34,36,33,31,34,34],
[33,31,33,30,34,37,32,33,38,42,44,40,42,40,44,42,38,33,32,37,34,30,33,31,33],
[32,30,28,32,36,33,31,35,33,36,36,33,36,33,36,36,33,35,31,33,36,32,28,30,32],
[30,27,30,34,34,31,33,32,35,38,34,31,34,31,34,38,35,32,33,31,34,34,30,27,30],
[33,29,34,36,32,34,31,33,34,36,36,32,34,32,36,36,34,33,31,34,32,36,34,29,33]
];
var rap2High = [
[34,33,36,32,34,36,33,35,34,36,34,36,33,36,34,33,32,36,34,33,36,34,33,35,34],
[36,31,33,34,36,33,35,34,36,35,36,34,36,36,33,35,32,33,36,33,34,36,32,34,33],
[32,33,36,32,33,36,34,36,33,35,36,38,36,38,36,33,36,34,32,36,33,34,35,32,34],
[35,34,33,35,34,36,36,38,36,38,38,36,40,38,36,42,38,36,34,33,34,36,33,35,33],
[32,36,34,36,36,36,40,42,46,40,42,44,42,44,46,50,42,38,36,33,32,34,36,34,35],
[34,33,36,34,38,42,44,46,50,54,52,50,52,52,56,58,52,46,38,36,34,33,34,36,33],
[36,34,36,38,40,44,52,50,50,46,44,46,44,46,48,62,50,46,42,38,34,36,33,35,34],
[33,36,34,38,44,50,50,48,40,33,29,28,29,33,42,46,52,48,44,38,36,34,35,33,36],
[35,34,38,40,46,54,48,44,31,29,28,30,34,40,46,44,46,50,44,38,36,35,33,35,34],
[36,38,36,42,48,52,46,38,33,42,48,46,48,44,42,38,44,50,50,42,38,36,34,36,33],
[34,36,38,44,52,50,44,34,42,46,50,48,50,46,48,38,40,50,54,48,38,36,34,33,35],
[35,36,38,44,50,48,42,33,44,50,46,50,48,50,46,44,34,44,52,50,40,36,34,36,36],
[36,38,42,52,54,46,38,30,46,48,52,44,36,46,50,48,31,40,48,52,42,38,36,34,33],
[34,36,40,46,50,46,38,29,42,46,48,50,48,46,48,44,30,44,50,50,40,36,35,36,34],
[36,36,38,44,48,46,40,29,36,50,46,50,46,48,50,38,31,46,52,46,38,36,33,35,36],
[33,36,38,42,48,46,44,31,30,42,50,48,52,48,40,33,36,50,54,48,36,34,36,34,33],
[36,34,36,40,44,48,46,40,32,31,34,44,46,40,32,36,46,50,52,44,36,36,34,36,35],
[34,36,34,38,44,50,48,46,42,33,31,30,29,30,33,44,48,52,46,38,36,34,36,33,36],
[33,35,36,38,40,46,52,48,46,44,42,38,36,38,44,46,50,50,40,38,36,34,35,36,34],
[36,34,33,36,38,44,50,54,50,50,48,48,46,46,50,50,52,46,38,36,34,36,33,34,36],
[34,33,36,34,36,38,42,50,54,56,54,52,52,52,54,50,44,40,36,34,36,33,34,33,35],
[33,36,34,36,34,36,38,40,42,42,44,44,46,44,42,40,38,36,35,36,33,35,36,34,33],
[36,33,35,32,36,34,36,33,36,34,36,33,36,35,33,36,34,36,33,34,36,33,32,35,34],
[32,34,33,36,33,35,32,36,33,36,33,36,33,36,33,35,33,36,34,36,33,34,36,33,34],
[34,33,36,32,34,33,36,33,35,33,34,36,33,35,34,33,36,33,35,33,34,36,33,35,33]
];

var infernoColors = ['#000004', '#160b39', '#420a68', '#6a176e', '#932667', '#bc3754', '#dd513a', '#f37819', '#fca50a', '#f6d746', '#fcffa4'];
var coolwarmColors = ['#3b4cc0', '#5977e3', '#7b9ff9', '#9ebeff', '#c0d4f5', '#dddcdc', '#f2cbb7', '#f7ac8e', '#ee8468', '#d44e41', '#b40426'];

function toCells(rows, scale) {
	var cells = [];
	rows.forEach(function (row, r) {
		row.forEach(function (v, c) {
			cells.push([c, r, v * scale]);
		});
	});
	return cells;
}

function indexes(n) {
	var list = [];
	for (var i = 0; i < n; i++) list.push(i);
	return list;
}

function addPanel(x, y, w, h, rows, scale, min, max, colors, edge, blur) {
	var box = document.createElement('div');
	box.className = 'panel';
	box.style.cssText = 'left:' + x + 'px;top:' + y + 'px;width:' + w + 'px;height:' + h + 'px;background:' + edge;
	var map = document.createElement('div');
	map.className = 'map';
	map.style.cssText = 'width:' + w + 'px;height:' + h + 'px;filter:blur(' + blur + 'px)';
	box.appendChild(map);
	document.getElementById('page').appendChild(box);
	var chart = echarts.init(map);
	chart.setOption({
		animation: false,
		grid: { left: 0, right: 0, top: 0, bottom: 0 },
		xAxis: { type: 'category', data: indexes(rows[0].length), show: false },
		yAxis: { type: 'category', data: indexes(rows.length), inverse: true, show: false },
		visualMap: { show: false, min: min, max: max, calculable: false, inRange: { color: colors } },
		series: [{
			type: 'heatmap',
			data: toCells(rows, scale),
			progressive: 0,
			silent: true,
			itemStyle: { borderWidth: 0 }
		}]
	});
}

var phaseBoxes = [[204, 234], [506, 235], [807, 235]];
var phaseMaps = [phaseLow, phaseMid, phaseHigh];
var phaseBlur = [0, 2, 1.2];
phaseMaps.forEach(function (rows, i) {
	addPanel(phaseBoxes[i][0], 54, phaseBoxes[i][1], 234, rows, 0.1, -3.16, 3.16, coolwarmColors, '#dddcdc', phaseBlur[i]);
});

var contrastMaps = [
	[cspLow, cspMid, cspHigh],
	[rap1Low, rap1Mid, rap1High],
	[rap2Low, rap2Mid, rap2High]
];
var contrastX = [207, 504, 801];
var contrastY = [330, 614, 898];
contrastMaps.forEach(function (line, r) {
	line.forEach(function (rows, c) {
		addPanel(contrastX[c], contrastY[r], 237, 236, rows, -0.1, -8, -2, infernoColors, '#f8890f', 3);
	});
});

// titles, row labels and the two colour bars
var texts = [];
var titleX = [321, 623, 925];
columnTitles.forEach(function (t, i) {
	texts.push({
		type: 'text', x: titleX[i], y: 33,
		style: { text: t, font: '28.7px "DejaVu Sans"', fill: '#111', textAlign: 'center', textVerticalAlign: 'middle' }
	});
});
var labelY = [[161], [450, 495], [734, 779], [1018, 1063]];
rowLabels.forEach(function (lines, r) {
	lines.forEach(function (t, k) {
		texts.push({
			type: 'text', x: 172, y: labelY[r][k],
			style: { text: t, font: '37px "Liberation Sans"', fill: '#000', textAlign: 'right', textVerticalAlign: 'middle' }
		});
	});
});

function minusLabel(v) {
	return '{t|' + String(v).replace('-', '\u2212') + '}';
}
var tickRich = { t: { padding: [6, 0, 0, 0], color: '#111', fontFamily: 'DejaVu Sans', fontSize: 25 } };

var main = echarts.init(document.getElementById('main'));
main.setOption({
	animation: false,
	graphic: texts,
	visualMap: [
		{ type: 'continuous', show: true, min: -3.16, max: 3.16, left: 1096, top: 54, itemWidth: 11, itemHeight: 234, padding: 0, text: null, calculable: false, hoverLink: false, inRange: { color: coolwarmColors }, z: 1 },
		{ type: 'continuous', show: true, min: -8, max: -2, left: 1088, top: 330, itemWidth: 42, itemHeight: 804, padding: 0, text: null, calculable: false, hoverLink: false, inRange: { color: infernoColors }, z: 1 }
	],
	grid: [
		{ left: 1096, top: 54, width: 11, height: 234, show: true, backgroundColor: 'transparent', borderColor: '#222', borderWidth: 2, z: 5 },
		{ left: 1088, top: 330, width: 42, height: 804, show: true, backgroundColor: 'transparent', borderColor: '#222', borderWidth: 2, z: 5 }
	],
	xAxis: [
		{ type: 'value', gridIndex: 0, min: 0, max: 1, show: false },
		{ type: 'value', gridIndex: 1, min: 0, max: 1, show: false }
	],
	yAxis: [
		{
			type: 'value', gridIndex: 0, position: 'right', min: -3.16, max: 3.16, z: 6,
			splitLine: { show: false },
			axisLine: { show: true, onZero: false, lineStyle: { color: '#222', width: 2 } },
			axisTick: { show: true, length: 8, customValues: phaseTicks, lineStyle: { color: '#222', width: 2 } },
			axisLabel: { customValues: phaseTicks, margin: 11, formatter: minusLabel, rich: tickRich }
		},
		{
			type: 'value', gridIndex: 1, position: 'right', min: -8, max: -2, interval: 1, z: 6,
			splitLine: { show: false },
			axisLine: { show: true, onZero: false, lineStyle: { color: '#222', width: 2 } },
			axisTick: { show: true, length: 9, lineStyle: { color: '#222', width: 2 } },
			axisLabel: { margin: 19, formatter: minusLabel, rich: tickRich }
		}
	]
});
</script>
</body>
</html>
